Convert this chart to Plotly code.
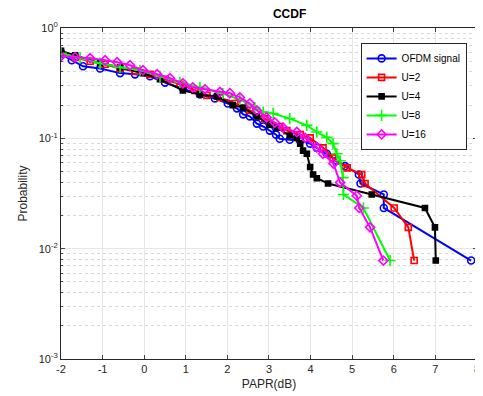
import plotly.graph_objects as go

# ---- data ----
ofdm_x = [-2.0, -1.74, -1.47, -1.06, -0.58, -0.22, 0.14, 0.50, 0.93, 1.34, 1.70, 2.01, 2.23, 2.38, 2.54, 2.71, 2.86, 3.02, 3.17, 3.26, 3.50, 3.75, 3.99, 4.15, 4.39, 4.63, 4.83, 5.16, 5.20, 5.76, 5.76, 7.86]
ofdm_y = [0.58, 0.51, 0.45, 0.43, 0.39, 0.38, 0.365, 0.32, 0.284, 0.25, 0.23, 0.207, 0.187, 0.165, 0.158, 0.136, 0.128, 0.1175, 0.108, 0.099, 0.097, 0.095, 0.0895, 0.082, 0.0725, 0.0626, 0.056, 0.047, 0.039, 0.031, 0.0234, 0.0078]

u2_x = [-2.0, -1.66, -1.30, -0.94, -0.58, -0.22, 0.14, 0.50, 0.86, 1.22, 1.51, 1.82, 2.18, 2.54, 2.90, 3.26, 3.43, 3.75, 3.99, 4.30, 4.54, 4.88, 5.23, 5.31, 6.01, 6.35, 6.49]
u2_y = [0.59, 0.54, 0.50, 0.47, 0.43, 0.405, 0.38, 0.343, 0.309, 0.272, 0.245, 0.235, 0.207, 0.179, 0.151, 0.128, 0.1175, 0.108, 0.101, 0.082, 0.0665, 0.054, 0.0469, 0.039, 0.0234, 0.0156, 0.0078]

u4_x = [-2.0, -1.66, -1.06, -0.58, -0.03, 0.38, 0.93, 1.34, 1.75, 2.13, 2.38, 2.71, 3.02, 3.19, 3.50, 3.67, 3.75, 3.82, 3.91, 3.99, 4.06, 4.15, 4.42, 5.47, 6.75, 6.99, 7.01]
u4_y = [0.62, 0.567, 0.48, 0.44, 0.39, 0.343, 0.272, 0.25, 0.24, 0.20, 0.19, 0.158, 0.133, 0.125, 0.106, 0.101, 0.0895, 0.0773, 0.0725, 0.055, 0.047, 0.0435, 0.039, 0.031, 0.0234, 0.0156, 0.0078]

u8_x = [-2.0, -1.54, -1.06, -0.58, -0.10, 0.38, 0.86, 1.34, 1.89, 2.30, 2.66, 2.86, 3.10, 3.50, 3.91, 4.15, 4.39, 4.54, 4.63, 4.71, 4.78, 4.79, 5.27, 5.91]
u8_y = [0.59, 0.533, 0.48, 0.44, 0.414, 0.365, 0.322, 0.29, 0.255, 0.225, 0.19, 0.173, 0.168, 0.151, 0.131, 0.114, 0.102, 0.0895, 0.0725, 0.0626, 0.044, 0.031, 0.0234, 0.0078]

u16_x = [-2.0, -1.66, -1.30, -0.94, -0.65, -0.34, -0.03, 0.31, 0.62, 0.93, 1.17, 1.46, 1.82, 2.06, 2.30, 2.54, 2.71, 2.94, 3.14, 3.34, 3.67, 3.87, 4.15, 4.30, 4.55, 4.71, 5.11, 5.17, 5.43, 5.75]
u16_y = [0.556, 0.545, 0.533, 0.51, 0.49, 0.46, 0.414, 0.381, 0.35, 0.315, 0.29, 0.278, 0.263, 0.256, 0.235, 0.207, 0.179, 0.155, 0.139, 0.125, 0.114, 0.101, 0.083, 0.0725, 0.059, 0.0397, 0.0302, 0.0234, 0.0156, 0.0078]

x_ticks = [-2, -1, 0, 1, 2, 3, 4, 5, 6, 7, 8]
x_ticktext = ["-2", "-1", "0", "1", "2", "3", "4", "5", "6", "7", "8"]
y_tickvals = [0.001, 0.01, 0.1, 1]
y_ticktext = ["10<sup>-3</sup>", "10<sup>-2</sup>", "10<sup>-1</sup>", "10<sup>0</sup>"]

series = [
    ("OFDM signal", ofdm_x, ofdm_y, "#0000ff", "circle-open", 7),
    ("U=2", u2_x, u2_y, "#ff0000", "square-open", 6),
    ("U=4", u4_x, u4_y, "#000000", "square", 5),
    ("U=8", u8_x, u8_y, "#00ff00", "cross-thin-open", 8),
    ("U=16", u16_x, u16_y, "#ff00ff", "diamond-open", 7),
]

fig = go.Figure()
for name, xs, ys, col, sym, sz in series:
    fig.add_trace(go.Scatter(
        x=xs, y=ys, name=name, mode="lines+markers",
        line=dict(color=col, width=2),
        marker=dict(symbol=sym, size=sz, color=col, line=dict(color=col, width=1.6)),
    ))

# the page body adds an 8px margin, so the figure is 8px smaller than the window
W, H = 475, 388
L, R, T, B = 53, 6, 20, 37
axcol = "#262626"
fig.update_layout(
    width=W, height=H,
    margin=dict(l=L, r=R, t=T, b=B),
    paper_bgcolor="white", plot_bgcolor="white",
    font=dict(family="Liberation Sans, Arial, sans-serif", size=11, color=axcol),
    title=dict(text="<b>CCDF</b>", x=(L + (W - R)) / 2 / W, xref="paper", xanchor="center",
               y=1 - 6 / H, yanchor="middle", font=dict(size=12, color="#000")),
    showlegend=True,
    legend=dict(x=0.975, y=0.955, xanchor="right", yanchor="top",
                bgcolor="white", bordercolor=axcol, borderwidth=1,
                font=dict(size=10, color="#000"), tracegroupgap=0),
    xaxis=dict(range=[-2, 8.001], autorange=False, tickvals=x_ticks, ticktext=x_ticktext,
               ticks="inside", ticklen=4,
               showline=True, linecolor=axcol, linewidth=1, mirror="ticks",
               showgrid=True, gridcolor="#e6e6e6", gridwidth=1, zeroline=False,
               automargin=False,
               title=dict(text="PAPR(dB)", font=dict(size=12), standoff=5)),
    yaxis=dict(type="log", range=[-3, 0], autorange=False, tickvals=y_tickvals, ticktext=y_ticktext,
               ticks="inside", ticklen=4, automargin=False,
               showline=True, linecolor=axcol, linewidth=1, mirror="ticks",
               showgrid=True, gridcolor="#e6e6e6", gridwidth=1, zeroline=False,
               minor=dict(ticks="inside", ticklen=2, showgrid=True,
                          gridcolor="#d8d8d8", griddash="dot", dtick="D1"),
               title=dict(text="Probability", font=dict(size=12), standoff=8)),
)

fig.write_html("out.html")
